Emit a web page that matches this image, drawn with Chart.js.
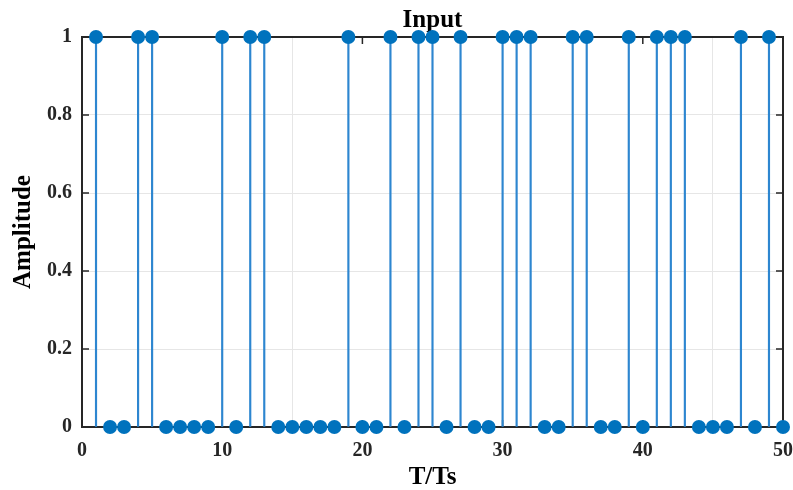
<!DOCTYPE html>
<html>
<head>
<meta charset="utf-8">
<script src="https://cdn.jsdelivr.net/npm/chart.js@4.4.1/dist/chart.umd.min.js"></script>
<style>
  html, body { margin: 0; padding: 0; background: #fff; }
  #wrap { width: 793px; height: 490px; }
</style>
</head>
<body>
<div id="wrap"><canvas id="stemChart"></canvas></div>
<script>
"use strict";

var timeSteps = [1, 2, 3, 4, 5, 6, 7, 8, 9, 10,
                 11, 12, 13, 14, 15, 16, 17, 18, 19, 20,
                 21, 22, 23, 24, 25, 26, 27, 28, 29, 30,
                 31, 32, 33, 34, 35, 36, 37, 38, 39, 40,
                 41, 42, 43, 44, 45, 46, 47, 48, 49, 50];
var amplitude = [1, 0, 0, 1, 1, 0, 0, 0, 0, 1,
                 0, 1, 1, 0, 0, 0, 0, 0, 1, 0,
                 0, 1, 0, 1, 1, 0, 1, 0, 0, 1,
                 1, 1, 0, 0, 1, 1, 0, 0, 1, 0,
                 1, 1, 1, 0, 0, 0, 1, 0, 1, 0];
var xTicks = [0, 10, 20, 30, 40, 50];
var yTicks = [0, 0.2, 0.4, 0.6, 0.8, 1];

var points = timeSteps.map(function(t, i) {
    return { x: t, y: amplitude[i] };
});

var serif = '"Liberation Serif", "Times New Roman", serif';
var inkColor = '#262626';

// MATLAB style box with inward ticks on all four sides
var boxPlugin = {
    id: 'boxPlugin',
    beforeDatasetsDraw: function(chart) {
        var ctx = chart.ctx;
        var area = chart.chartArea;
        var xs = chart.scales.x;
        var ys = chart.scales.y;
        var len = 7;
        ctx.save();
        ctx.strokeStyle = inkColor;
        ctx.lineWidth = 1.5;
        ctx.beginPath();
        xTicks.forEach(function(v) {
            var px = xs.getPixelForValue(v);
            ctx.moveTo(px, area.bottom);
            ctx.lineTo(px, area.bottom - len);
            ctx.moveTo(px, area.top);
            ctx.lineTo(px, area.top + len);
        });
        yTicks.forEach(function(v) {
            var py = ys.getPixelForValue(v);
            ctx.moveTo(area.left, py);
            ctx.lineTo(area.left + len, py);
            ctx.moveTo(area.right, py);
            ctx.lineTo(area.right - len, py);
        });
        ctx.stroke();
        ctx.lineWidth = 2;
        ctx.strokeRect(area.left, area.top, area.right - area.left, area.bottom - area.top);
        ctx.restore();
    }
};

new Chart(document.getElementById('stemChart'), {
    type: 'scatter',
    data: {
        datasets: [{
            type: 'bar',
            label: 'stem',
            data: points,
            backgroundColor: '#2d86d0',
            barThickness: 1.5,
            clip: false,
            order: 2
        }, {
            type: 'scatter',
            label: 'Input',
            data: points,
            pointRadius: 7,
            pointHoverRadius: 7,
            pointBackgroundColor: '#0072BD',
            pointBorderColor: '#0072BD',
            pointBorderWidth: 0,
            clip: false,
            order: 1
        }]
    },
    plugins: [boxPlugin],
    options: {
        responsive: true,
        maintainAspectRatio: false,
        animation: false,
        layout: {
            padding: { right: 10 }
        },
        plugins: {
            legend: { display: false },
            tooltip: { enabled: false },
            title: {
                display: true,
                text: 'Input',
                fullSize: false,
                color: '#000',
                font: { family: serif, size: 25, weight: 'bold', lineHeight: 1.2 },
                padding: { top: 6, bottom: 1 }
            }
        },
        scales: {
            x: {
                type: 'linear',
                min: 0,
                max: 50,
                offset: false,
                afterFit: function(scale) {
                    scale.height = 63;
                    scale.paddingLeft = 0;
                    scale.paddingRight = 0;
                },
                grid: { color: '#e6e6e6', lineWidth: 1, drawTicks: false },
                border: { display: false },
                ticks: {
                    stepSize: 10,
                    padding: 12,
                    color: inkColor,
                    maxRotation: 0,
                    font: { family: serif, size: 20, weight: 'bold' }
                },
                title: {
                    display: true,
                    text: 'T/Ts',
                    color: '#000',
                    font: { family: serif, size: 25, weight: 'bold', lineHeight: 1 },
                    padding: { top: 0, bottom: 0 }
                }
            },
            y: {
                min: 0,
                max: 1,
                afterFit: function(scale) {
                    scale.width = 82;
                    scale.paddingTop = 0;
                    scale.paddingBottom = 0;
                },
                grid: { color: '#e6e6e6', lineWidth: 1, drawTicks: false },
                border: { display: false },
                ticks: {
                    stepSize: 0.2,
                    padding: 10,
                    color: inkColor,
                    font: { family: serif, size: 20, weight: 'bold' },
                    callback: function(v) { return String(Math.round(v * 10) / 10); }
                },
                title: {
                    display: true,
                    text: 'Amplitude',
                    color: '#000',
                    font: { family: serif, size: 25, weight: 'bold', lineHeight: 1.2 },
                    padding: { top: 9, bottom: 0 }
                }
            }
        }
    }
});
</script>
</body>
</html>
